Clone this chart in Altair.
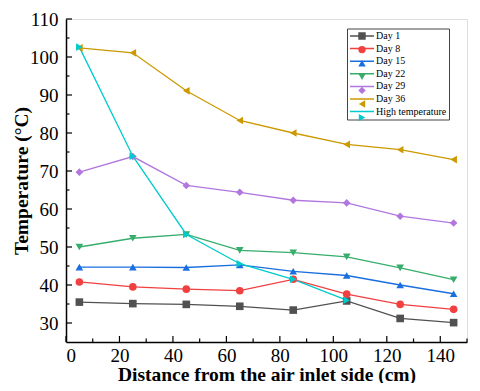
import altair as alt
import pandas as pd

x_vals = [5, 25, 45, 65, 85, 105, 125, 145]
series_names = ["Day 1", "Day 8", "Day 15", "Day 22", "Day 29", "Day 36", "High temperature"]
day1 = [35.5, 35.1, 34.9, 34.4, 33.4, 35.8, 31.2, 30.1]
day8 = [40.8, 39.5, 38.9, 38.5, 41.5, 37.6, 34.9, 33.6]
day15 = [44.7, 44.7, 44.6, 45.3, 43.6, 42.5, 40.0, 37.7]
day22 = [50.0, 52.3, 53.3, 49.1, 48.5, 47.4, 44.5, 41.4]
day29 = [69.7, 73.8, 66.2, 64.4, 62.3, 61.6, 58.1, 56.3]
day36 = [102.4, 101.1, 91.1, 83.3, 80.0, 77.0, 75.6, 73.0]
high_x = [5, 25, 45, 65, 85, 105]
high_temp = [102.6, 73.9, 53.3, 45.6, 41.5, 36.0]

colors = ["#515151", "#F14040", "#1A6FDF", "#37AD6B", "#B177DE", "#CC9900", "#00CBCC"]
shapes = ["square", "circle", "triangle-up", "triangle-down", "diamond", "triangle-left", "triangle-right"]

y_major = [30, 40, 50, 60, 70, 80, 90, 100, 110]
y_minor = [35, 45, 55, 65, 75, 85, 95, 105]
x_major = [0, 20, 40, 60, 80, 100, 120, 140]
x_minor = [10, 30, 50, 70, 90, 110, 130, 150]

rows = []
for name, xs, ys in [
    ("Day 1", x_vals, day1), ("Day 8", x_vals, day8), ("Day 15", x_vals, day15),
    ("Day 22", x_vals, day22), ("Day 29", x_vals, day29), ("Day 36", x_vals, day36),
    ("High temperature", high_x, high_temp),
]:
    for xv, yv in zip(xs, ys):
        rows.append({"series": name, "x": xv, "y": yv})
df = pd.DataFrame(rows)

W, H = 401, 323
FONT = "Liberation Serif"

xscale = alt.Scale(domain=[0, 150], nice=False, zero=False)
yscale = alt.Scale(domain=[25, 110], nice=False, zero=False)

xaxis = alt.Axis(values=x_major, ticks=False, grid=False, title="Distance from the air inlet side (cm)",
                 labelFont=FONT, labelFontSize=19, labelColor="black", labelPadding=4,
                 titleFont=FONT, titleFontSize=19.5, titleFontWeight="bold", titleColor="black",
                 titlePadding=0, domainColor="black", domainWidth=1.5)
yaxis = alt.Axis(values=y_major, ticks=False, grid=False, title="Temperature (°C)",
                 labelFont=FONT, labelFontSize=19, labelColor="black", labelPadding=8,
                 titleFont=FONT, titleFontSize=19.5, titleFontWeight="bold", titleColor="black",
                 titlePadding=-2, domainColor="black", domainWidth=1.5)

color_scale = alt.Scale(domain=series_names, range=colors)
shape_scale = alt.Scale(domain=series_names, range=shapes)

base = alt.Chart(df)

lines = base.mark_line(strokeWidth=1.3).encode(
    x=alt.X("x:Q", scale=xscale, axis=xaxis),
    y=alt.Y("y:Q", scale=yscale, axis=yaxis),
    color=alt.Color("series:N", scale=color_scale, sort=series_names,
                    legend=alt.Legend(title=None, orient="none", legendX=281, legendY=9.5,
                                      symbolType="stroke", symbolSize=576, symbolStrokeWidth=1.5,
                                      labelFont=FONT, labelFontSize=10, labelColor="black",
                                      strokeColor="#444444", padding=2, rowPadding=1.6,
                                      clipHeight=11, labelOffset=1, cornerRadius=0)),
)

pt_legend = alt.Legend(title=None, orient="none", legendX=288.5, legendY=9.5,
                       symbolSize=55, labelExpr="''", labelFontSize=11,
                       padding=2, rowPadding=1.6, clipHeight=11, symbolOpacity=1)

points = base.mark_point(filled=True, size=58, opacity=1).encode(
    x=alt.X("x:Q", scale=xscale),
    y=alt.Y("y:Q", scale=yscale),
    color=alt.Color("series:N", scale=color_scale, sort=series_names, legend=pt_legend),
    shape=alt.Shape("series:N", scale=shape_scale, sort=series_names, legend=pt_legend),
)

ymaj = alt.Chart(pd.DataFrame({"v": y_major})).mark_rule(color="black", strokeWidth=1.2).encode(
    y=alt.Y("v:Q", scale=yscale), x=alt.value(0), x2=alt.value(6))
ymin = alt.Chart(pd.DataFrame({"v": y_minor})).mark_rule(color="black", strokeWidth=1.2).encode(
    y=alt.Y("v:Q", scale=yscale), x=alt.value(0), x2=alt.value(3.5))
xmaj = alt.Chart(pd.DataFrame({"v": x_major})).mark_rule(color="black", strokeWidth=1.2).encode(
    x=alt.X("v:Q", scale=xscale), y=alt.value(H), y2=alt.value(H - 6))
xmin = alt.Chart(pd.DataFrame({"v": x_minor})).mark_rule(color="black", strokeWidth=1.2).encode(
    x=alt.X("v:Q", scale=xscale), y=alt.value(H), y2=alt.value(H - 3.5))

chart = alt.layer(ymaj, ymin, xmaj, xmin, lines, points).resolve_scale(
    color="independent", shape="independent"
).resolve_legend(
    color="independent", shape="independent"
).properties(
    width=W, height=H,
    autosize=alt.AutoSizeParams(type="none"),
    padding={"left": 58, "top": 11, "right": 5, "bottom": 41},
).configure_view(stroke=None).configure(background="white")

chart.save("out.html", embed_options={"renderer": "svg", "actions": False})
